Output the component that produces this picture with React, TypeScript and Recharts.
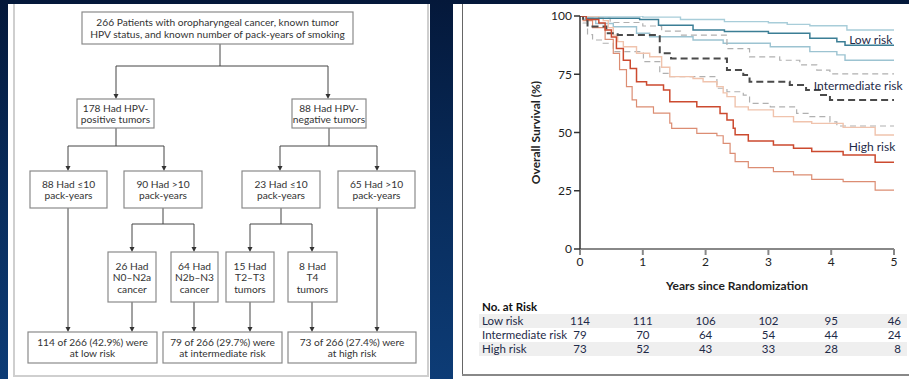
import { LineChart, Line, XAxis, YAxis, ReferenceDot } from "recharts";

type Pt = { t: number; s: number };

// Kaplan-Meier curves (years, % surviving)
const lowRisk: Pt[] = [
  { t: 0, s: 100 }, { t: 0.1, s: 99 }, { t: 0.95, s: 98.5 }, { t: 1.25, s: 96 },
  { t: 1.8, s: 94 }, { t: 2.3, s: 93.3 }, { t: 3.0, s: 92.6 }, { t: 3.66, s: 90.4 },
  { t: 4.09, s: 89 }, { t: 4.22, s: 87.5 }, { t: 5, s: 87.5 },
];
const lowUpper: Pt[] = [
  { t: 0, s: 100 }, { t: 1.0, s: 99.5 }, { t: 1.6, s: 98.5 }, { t: 2.3, s: 97.6 },
  { t: 3.0, s: 97.1 }, { t: 3.3, s: 96.4 }, { t: 3.66, s: 95.8 }, { t: 4.25, s: 94 },
  { t: 5, s: 94 },
];
const lowLower: Pt[] = [
  { t: 0, s: 100 }, { t: 0.05, s: 98.5 }, { t: 0.25, s: 96.8 }, { t: 0.53, s: 95.4 },
  { t: 0.9, s: 92.6 }, { t: 1.11, s: 91.1 }, { t: 1.8, s: 89.7 }, { t: 2.28, s: 88.3 },
  { t: 3.03, s: 86.8 }, { t: 3.66, s: 84.7 }, { t: 4.09, s: 83.3 }, { t: 4.22, s: 81 },
  { t: 5, s: 81 },
];
const intRisk: Pt[] = [
  { t: 0, s: 100 }, { t: 0.05, s: 98 }, { t: 0.12, s: 95.5 }, { t: 0.42, s: 92.6 },
  { t: 0.6, s: 91.8 }, { t: 1.27, s: 84 }, { t: 1.45, s: 81.8 }, { t: 2.34, s: 76.8 },
  { t: 2.6, s: 74.7 }, { t: 2.7, s: 71.8 }, { t: 3.34, s: 70.4 }, { t: 3.6, s: 68.2 },
  { t: 3.82, s: 66.1 }, { t: 3.98, s: 64 }, { t: 5, s: 64 },
];
const intUpper: Pt[] = [
  { t: 0, s: 100 }, { t: 0.1, s: 99 }, { t: 0.48, s: 97.2 }, { t: 1.0, s: 95.7 },
  { t: 1.3, s: 93.5 }, { t: 1.6, s: 91.8 }, { t: 2.34, s: 86 }, { t: 2.7, s: 82.5 },
  { t: 3.18, s: 81 }, { t: 3.5, s: 79 }, { t: 3.77, s: 76.8 }, { t: 3.98, s: 75.2 },
  { t: 5, s: 75.2 },
];
const intLower: Pt[] = [
  { t: 0, s: 100 }, { t: 0.05, s: 97 }, { t: 0.12, s: 92 }, { t: 0.2, s: 89.7 },
  { t: 0.37, s: 88.3 }, { t: 0.53, s: 84.7 }, { t: 1.01, s: 80.4 }, { t: 1.27, s: 75.4 },
  { t: 1.43, s: 74 }, { t: 2.18, s: 69 }, { t: 2.34, s: 67.5 }, { t: 2.6, s: 66 },
  { t: 2.7, s: 62.5 }, { t: 3.03, s: 61 }, { t: 3.45, s: 58.2 }, { t: 3.66, s: 56.8 },
  { t: 3.98, s: 54.6 }, { t: 4.09, s: 52.8 }, { t: 5, s: 52.8 },
];
const highRisk: Pt[] = [
  { t: 0, s: 100 }, { t: 0.1, s: 98.5 }, { t: 0.3, s: 97 }, { t: 0.4, s: 94 },
  { t: 0.5, s: 91 }, { t: 0.58, s: 86 }, { t: 0.69, s: 81 }, { t: 0.8, s: 77.5 },
  { t: 0.9, s: 71.8 }, { t: 1.06, s: 70.4 }, { t: 1.33, s: 68.2 }, { t: 1.43, s: 63.2 },
  { t: 1.86, s: 61 }, { t: 2.23, s: 58.2 }, { t: 2.34, s: 55.4 }, { t: 2.44, s: 51.8 },
  { t: 2.47, s: 49 }, { t: 2.68, s: 46.4 }, { t: 3.08, s: 44.6 }, { t: 3.4, s: 43.2 },
  { t: 3.69, s: 41.8 }, { t: 4.19, s: 40.3 }, { t: 4.7, s: 37.2 }, { t: 5, s: 37.2 },
];
const highUpper: Pt[] = [
  { t: 0, s: 100 }, { t: 0.3, s: 99 }, { t: 0.37, s: 98 }, { t: 0.45, s: 95 },
  { t: 0.53, s: 91.8 }, { t: 0.6, s: 89 }, { t: 0.69, s: 86.8 }, { t: 0.9, s: 84 },
  { t: 1.11, s: 82.5 }, { t: 1.3, s: 78 }, { t: 1.43, s: 74 }, { t: 1.8, s: 73.2 },
  { t: 1.96, s: 71.8 }, { t: 2.18, s: 69.7 }, { t: 2.28, s: 67 }, { t: 2.34, s: 65.4 },
  { t: 2.47, s: 61 }, { t: 2.68, s: 59.7 }, { t: 3.08, s: 56.8 }, { t: 3.4, s: 54.6 },
  { t: 3.69, s: 53.9 }, { t: 4.19, s: 52.2 }, { t: 4.7, s: 48.9 }, { t: 5, s: 48.9 },
];
const highLower: Pt[] = [
  { t: 0, s: 100 }, { t: 0.05, s: 98 }, { t: 0.2, s: 95 }, { t: 0.4, s: 90 },
  { t: 0.53, s: 84 }, { t: 0.63, s: 77 }, { t: 0.74, s: 69.7 }, { t: 0.83, s: 64 },
  { t: 0.9, s: 61 }, { t: 1.17, s: 58.3 }, { t: 1.43, s: 54 }, { t: 1.46, s: 51.8 },
  { t: 1.86, s: 49.6 }, { t: 2.18, s: 48.6 }, { t: 2.28, s: 45.3 }, { t: 2.39, s: 41 },
  { t: 2.47, s: 37.5 }, { t: 2.68, s: 34.9 }, { t: 3.08, s: 33.2 }, { t: 3.4, s: 31.8 },
  { t: 3.69, s: 29.9 }, { t: 4.19, s: 28.9 }, { t: 4.7, s: 25.3 }, { t: 5, s: 25.3 },
];

const yearTicks = [0, 1, 2, 3, 4, 5];
const survivalTicks = [0, 25, 50, 75, 100];

// number at risk table
const riskGroups = ["Low risk", "Intermediate risk", "High risk"];
const atRiskLow = [114, 111, 106, 102, 95, 46];
const atRiskInt = [79, 70, 64, 54, 44, 24];
const atRiskHigh = [73, 52, 43, 33, 28, 8];
const atRisk = [atRiskLow, atRiskInt, atRiskHigh];

// flow diagram
const flowBoxes = [
  { x: 82, y: 12, w: 271, h: 32, lines: ["266 Patients with oropharyngeal cancer, known tumor", "HPV status, and known number of pack-years of smoking"] },
  { x: 77, y: 99, w: 77, h: 29, lines: ["178 Had HPV-", "positive tumors"] },
  { x: 292, y: 99, w: 74, h: 29, lines: ["88 Had HPV-", "negative tumors"] },
  { x: 30, y: 171, w: 77, h: 37, lines: ["88 Had \u226410", "pack-years"] },
  { x: 124, y: 171, w: 78, h: 37, lines: ["90 Had >10", "pack-years"] },
  { x: 242, y: 171, w: 78, h: 37, lines: ["23 Had \u226410", "pack-years"] },
  { x: 338, y: 171, w: 77, h: 37, lines: ["65 Had >10", "pack-years"] },
  { x: 108, y: 252, w: 48, h: 50, lines: ["26 Had", "N0\u2013N2a", "cancer"] },
  { x: 171, y: 252, w: 47, h: 50, lines: ["64 Had", "N2b\u2013N3", "cancer"] },
  { x: 226, y: 252, w: 48, h: 50, lines: ["15 Had", "T2\u2013T3", "tumors"] },
  { x: 288, y: 252, w: 49, h: 50, lines: ["8 Had", "T4", "tumors"] },
  { x: 28, y: 332, w: 129, h: 31, lines: ["114 of 266 (42.9%) were", "at low risk"] },
  { x: 163, y: 332, w: 119, h: 31, lines: ["79 of 266 (29.7%) were", "at intermediate risk"] },
  { x: 288, y: 332, w: 128, h: 31, lines: ["73 of 266 (27.4%) were", "at high risk"] },
];
// plain connector segments [x1,y1,x2,y2]
const flowLines = [
  [220, 44, 220, 66], [116, 66, 328, 66],
  [116, 128, 116, 146], [68, 146, 164, 146],
  [329, 128, 329, 146], [280, 146, 377, 146],
  [163, 208, 163, 224], [132, 224, 194, 224],
  [281, 208, 281, 224], [250, 224, 312, 224],
];
// arrows [x, yFrom, yTo]
const flowArrows = [
  [116, 66, 99], [328, 66, 99],
  [68, 146, 171], [164, 146, 171], [280, 146, 171], [377, 146, 171],
  [132, 224, 252], [194, 224, 252], [250, 224, 252], [312, 224, 252],
  [68, 208, 332], [377, 208, 332],
  [132, 302, 332], [194, 302, 332], [250, 302, 332], [312, 302, 332],
];

const FONT = "Lato, 'Liberation Sans', sans-serif";
const TXT = "#1e2a48";

function FlowChart() {
  return (
    <svg width={430} height={379} style={{ position: "absolute", left: 0, top: 0 }}>
      {flowLines.map(([x1, y1, x2, y2], i) => (
        <line key={"l" + i} x1={x1} y1={y1} x2={x2} y2={y2} stroke="#444" strokeWidth={1} />
      ))}
      {flowArrows.map(([x, y1, y2], i) => (
        <g key={"a" + i}>
          <line x1={x} y1={y1} x2={x} y2={y2 - 4} stroke="#444" strokeWidth={1} />
          <path d={`M${x - 2.5},${y2 - 5} L${x + 2.5},${y2 - 5} L${x},${y2} Z`} fill="#333" />
        </g>
      ))}
      {flowBoxes.map((b, i) => {
        const lh = 11.5;
        const startY = b.y + b.h / 2 - ((b.lines.length - 1) * lh) / 2;
        return (
          <g key={"b" + i}>
            <rect x={b.x} y={b.y} width={b.w} height={b.h} fill="#fff" stroke="#8a8a8a" strokeWidth={1.2} />
            {b.lines.map((ln, j) => (
              <text
                key={j}
                x={b.x + b.w / 2}
                y={startY + j * lh}
                textAnchor="middle"
                dominantBaseline="central"
                fontSize={10.2}
                fontFamily={FONT}
                fill="#333"
              >
                {ln}
              </text>
            ))}
          </g>
        );
      })}
    </svg>
  );
}

const PLOT_LEFT = 580;
const PLOT_W = 314;

export default function App() {
  return (
    <div
      style={{
        position: "fixed",
        left: 0,
        top: 0,
        width: 909,
        height: 379,
        overflow: "hidden",
        background: "linear-gradient(180deg, #04183a 0%, #082a58 45%, #0d3c76 100%)",
        fontFamily: FONT,
      }}
    >
      {/* left panel */}
      <div style={{ position: "absolute", left: 8, top: 4, width: 422, height: 375, background: "#fff" }} />
      <div style={{ position: "absolute", left: 13, top: 4, width: 2, height: 373, background: "#cfcfcf" }} />
      <div style={{ position: "absolute", left: 427, top: 4, width: 2, height: 373, background: "#cfcfcf" }} />
      <div style={{ position: "absolute", left: 13, top: 375, width: 416, height: 2, background: "#cfcfcf" }} />
      <FlowChart />

      {/* right panel */}
      <div style={{ position: "absolute", left: 453, top: 4, width: 456, height: 375, background: "#fff" }} />
      <div style={{ position: "absolute", left: 462, top: 4, width: 1, height: 371, background: "#666" }} />
      <div style={{ position: "absolute", left: 462, top: 374, width: 447, height: 2, background: "#888" }} />

      <div style={{ position: "absolute", left: 453, top: 4 }}>
        <LineChart width={456} height={295} margin={{ top: 12, right: 15, bottom: 4, left: 78 }}>
          <XAxis
            type="number"
            dataKey="t"
            domain={[0, 5]}
            ticks={yearTicks}
            allowDataOverflow
            height={46}
            stroke="#888"
            strokeWidth={2}
            tickSize={6}
            tick={{ fontSize: 12, fill: "#222", fontFamily: FONT }}
            label={{
              value: "Years since Randomization",
              position: "insideBottom",
              offset: 5,
              style: { fontSize: 12, fontWeight: 700, fill: "#222", fontFamily: FONT },
            }}
          />
          <YAxis
            type="number"
            dataKey="s"
            domain={[0, 100]}
            ticks={survivalTicks}
            allowDataOverflow
            width={49}
            stroke="#333"
            strokeWidth={1.5}
            tickSize={6}
            tick={{ fontSize: 12, fill: "#222", fontFamily: FONT }}
            label={{
              value: "Overall Survival (%)",
              angle: -90,
              position: "insideLeft",
              offset: 5,
              style: { textAnchor: "middle", fontSize: 12, fontWeight: 700, fill: "#222", fontFamily: FONT },
            }}
          />
          <Line data={lowUpper} dataKey="s" type="stepAfter" stroke="#a8cdd9" strokeWidth={1.4} dot={false} isAnimationActive={false} />
          <Line data={lowLower} dataKey="s" type="stepAfter" stroke="#9cc3d1" strokeWidth={1.4} dot={false} isAnimationActive={false} />
          <Line data={intUpper} dataKey="s" type="stepAfter" stroke="#b0b0b0" strokeWidth={1.2} strokeDasharray="6 4" dot={false} isAnimationActive={false} />
          <Line data={intLower} dataKey="s" type="stepAfter" stroke="#b0b0b0" strokeWidth={1.2} strokeDasharray="6 4" dot={false} isAnimationActive={false} />
          <Line data={highUpper} dataKey="s" type="stepAfter" stroke="#f0c3ad" strokeWidth={1.4} dot={false} isAnimationActive={false} />
          <Line data={highLower} dataKey="s" type="stepAfter" stroke="#dc8d73" strokeWidth={1.2} dot={false} isAnimationActive={false} />
          <Line data={lowRisk} dataKey="s" type="stepAfter" stroke="#3b7e95" strokeWidth={1.5} dot={false} isAnimationActive={false} />
          <Line data={intRisk} dataKey="s" type="stepAfter" stroke="#4a4a4a" strokeWidth={2} strokeDasharray="7 4" dot={false} isAnimationActive={false} />
          <Line data={highRisk} dataKey="s" type="stepAfter" stroke="#cc4a2f" strokeWidth={1.5} dot={false} isAnimationActive={false} />
          <ReferenceDot x={4.63} y={89.7} r={0} label={{ value: "Low risk", position: "center", fontSize: 12, fill: TXT, fontFamily: FONT }} />
          <ReferenceDot x={4.43} y={70} r={0} label={{ value: "Intermediate risk", position: "center", fontSize: 12, fill: TXT, fontFamily: FONT }} />
          <ReferenceDot x={4.65} y={43.8} r={0} label={{ value: "High risk", position: "center", fontSize: 12, fill: TXT, fontFamily: FONT }} />
        </LineChart>
      </div>

      {/* number at risk */}
      <div style={{ position: "absolute", left: 482, top: 300, fontSize: 11.5, fontWeight: 700, color: "#111" }}>No. at Risk</div>
      {riskGroups.map((g, r) => (
        <div key={g}>
          {r !== 1 && (
            <div style={{ position: "absolute", left: 479, top: 314 + r * 14, width: 428, height: 14, background: "#efefef" }} />
          )}
          <div style={{ position: "absolute", left: 482, top: 314 + r * 14, height: 14, lineHeight: "14px", fontSize: 11.5, color: TXT }}>{g}</div>
          {atRisk[r].map((v, i) => {
            const cx = PLOT_LEFT + (yearTicks[i] / 5) * PLOT_W;
            const last = i === yearTicks.length - 1;
            return (
              <div
                key={i}
                style={{
                  position: "absolute",
                  left: last ? undefined : cx - 20,
                  right: last ? 909 - 901 : undefined,
                  width: last ? undefined : 40,
                  textAlign: last ? "right" : "center",
                  top: 314 + r * 14,
                  height: 14,
                  lineHeight: "14px",
                  fontSize: 11.5,
                  color: TXT,
                }}
              >
                {v}
              </div>
            );
          })}
        </div>
      ))}
    </div>
  );
}
